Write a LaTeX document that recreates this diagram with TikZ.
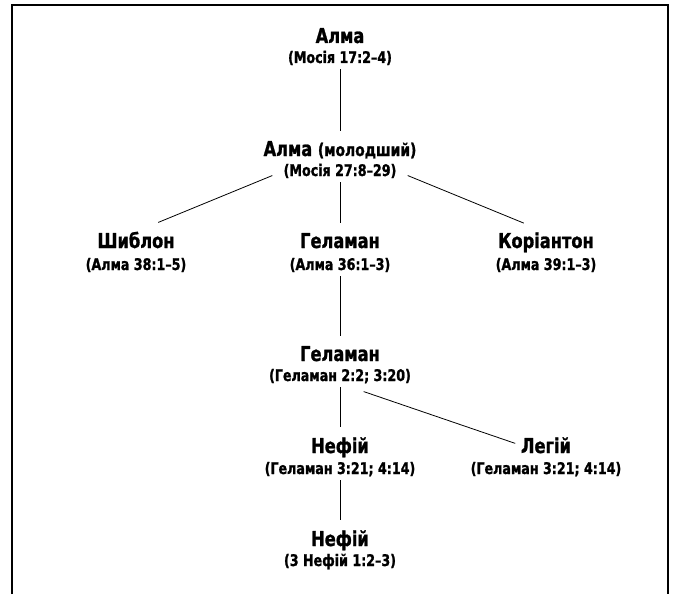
\documentclass[tikz,border=0pt]{standalone}
\usepackage{fontspec}
\setmainfont{DejaVu Sans Condensed}[FakeStretch=0.88, BoldFeatures={FakeBold=1.2}]
\tikzset{
  person/.style={font=\fontsize{20.5}{22}\selectfont\bfseries, inner sep=0pt, anchor=base},
  source/.style={font=\fontsize{16}{18}\selectfont\bfseries, inner sep=0pt, anchor=base},
  link/.style={line width=0.8pt, shorten <=4pt, shorten >=10pt},
}
\begin{document}
\begin{tikzpicture}[x=1pt, y=-1pt]
   \useasboundingbox (0,0) rectangle (674,594);
   \draw[line width=1.4pt] (12,594) -- (12,5) -- (668,5) -- (668,594);

   \node [person] (alma) at (340,43) {Алма};
   \node [source] (almaref) at (340,63) {(Мосія 17:2–4)};
   \node [person] (alma2) at (340,156) {Алма {\fontsize{17.5}{18}\selectfont(молодший)}};
   \node [source] (alma2ref) at (340,176) {(Мосія 27:8–29)};
   \node [person] (shiblon) at (136,248) {Шиблон};
   \node [source] (shiblonref) at (136,270) {(Алма 38:1–5)};
   \node [person] (hel1) at (340,248) {Геламан};
   \node [source] (hel1ref) at (340,270) {(Алма 36:1–3)};
   \node [person] (kor) at (546,248) {Коріантон};
   \node [source] (korref) at (546,270) {(Алма 39:1–3)};
   \node [person] (hel2) at (340,361) {Геламан};
   \node [source] (hel2ref) at (340,381) {(Геламан 2:2; 3:20)};
   \node [person] (nephi1) at (340,453) {Нефій};
   \node [source] (nephi1ref) at (340,474) {(Геламан 3:21; 4:14)};
   \node [person] (lehi) at (546,453) {Легій};
   \node [source] (lehiref) at (546,474) {(Геламан 3:21; 4:14)};
   \node [person] (nephi2) at (340,546) {Нефій};
   \node [source] (nephi2ref) at (340,566) {(3 Нефій 1:2–3)};

   \path[link] (almaref) edge (alma2)
               (alma2ref) edge (hel1)
               (hel1ref) edge (hel2)
               (hel2ref) edge (nephi1)
               (nephi1ref) edge (nephi2);

   \path[link, shorten <=12pt, shorten >=24pt]
               (alma2ref.west) edge (shiblon.north)
               (alma2ref.east) edge (kor.north);
   \path[link, shorten <=25pt, shorten >=6pt]
               (hel2ref.south) edge (lehi.west);
\end{tikzpicture}
\end{document}
